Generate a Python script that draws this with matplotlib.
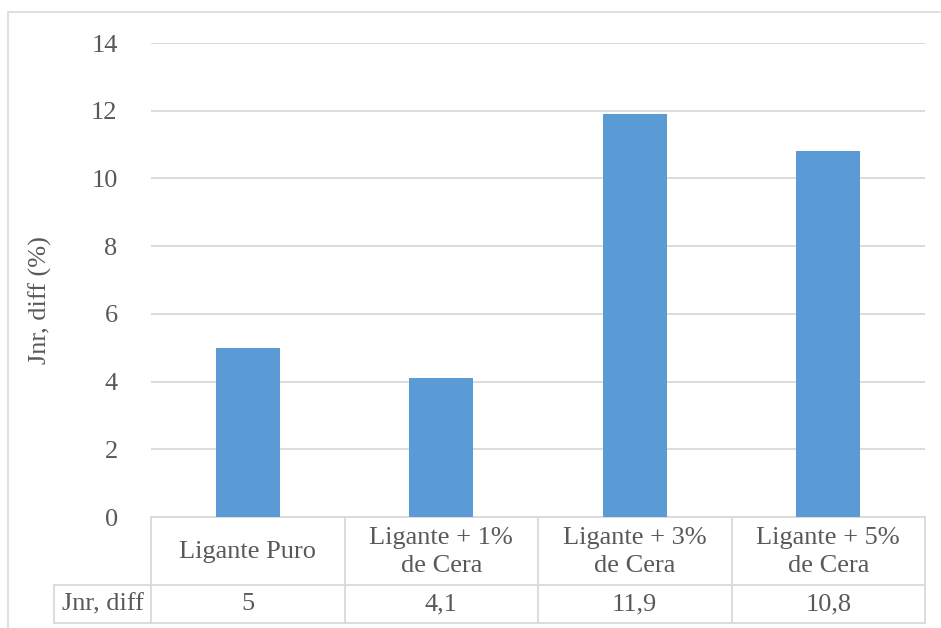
import matplotlib
matplotlib.use("Agg")
import matplotlib.pyplot as plt
from matplotlib.patches import Rectangle
from matplotlib.lines import Line2D

categories = ["Ligante Puro", "Ligante + 1%\nde Cera", "Ligante + 3%\nde Cera", "Ligante + 5%\nde Cera"]
values = [5, 4.1, 11.9, 10.8]
value_labels = ["5", "4,1", "11,9", "10,8"]
series_name = "Jnr, diff"
y_ticks = [0, 2, 4, 6, 8, 10, 12, 14]

W, H = 941, 628
TXT = "#595959"
GRID = "#D9D9D9"
BAR = "#5B9BD5"
FS = 19

plt.rcParams["font.family"] = ["Liberation Serif", "DejaVu Serif"]

fig = plt.figure(figsize=(W / 100, H / 100), dpi=100)

# outer chart border
fig.patches.append(Rectangle((8 / W, -0.01), 1.0, 1 - 12 / H + 0.01,
                             transform=fig.transFigure, fill=False,
                             edgecolor=GRID, linewidth=1.2))

left, right, top, zero = 151, 925, 43, 517
ax = fig.add_axes([left / W, 1 - zero / H, (right - left) / W, (zero - top) / H])

x = list(range(len(categories)))
ax.bar(x, values, width=0.33, color=BAR, zorder=3)
ax.set_xlim(-0.5, len(categories) - 0.5)
ax.set_ylim(0, 14)
ax.set_yticks(y_ticks)
ax.set_yticklabels([str(t) for t in y_ticks], fontsize=FS, color=TXT)
ax.tick_params(axis="y", length=0, pad=24)
ax.set_xticks([])
ax.grid(axis="y", color=GRID, linewidth=1.3, zorder=0)
for s in ["top", "right", "left"]:
    ax.spines[s].set_visible(False)
ax.spines["bottom"].set_color(GRID)
ax.spines["bottom"].set_linewidth(1.3)

fig.text(40 / W, 1 - 300 / H, "Jnr, diff (%)", rotation=90, ha="center",
         va="center", fontsize=FS, color=TXT)

# data table below the axis
row1, row2, lab_left = 585, 623, 54
colw = (right - left) / len(categories)


def fy(py):
    return 1 - py / H


def fx(px):
    return px / W


def line(x0, y0, x1, y1):
    fig.add_artist(Line2D([fx(x0), fx(x1)], [fy(y0), fy(y1)], color=GRID,
                          linewidth=1.3, transform=fig.transFigure))


line(lab_left, row1, right, row1)
line(lab_left, row2, right, row2)
line(lab_left, row1, lab_left, row2)
for i in range(len(categories) + 1):
    line(left + i * colw, zero, left + i * colw, row2)

for i, (c, v) in enumerate(zip(categories, value_labels)):
    cx = left + (i + 0.5) * colw
    fig.text(fx(cx), fy((zero + row1) / 2 + 1), c, ha="center", va="center",
             fontsize=FS, color=TXT, linespacing=1.35)
    fig.text(fx(cx), fy((row1 + row2) / 2), v, ha="center", va="center",
             fontsize=FS, color=TXT)
fig.text(fx((lab_left + left) / 2), fy((row1 + row2) / 2), series_name,
         ha="center", va="center", fontsize=FS, color=TXT)

fig.savefig("out.png", dpi=100)
